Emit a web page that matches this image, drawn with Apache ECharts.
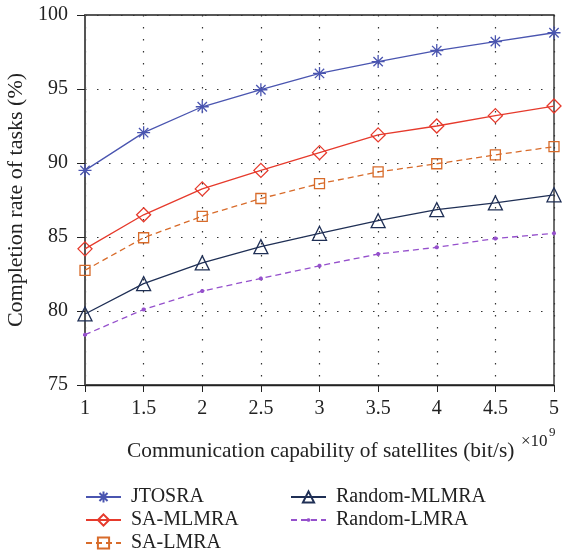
<!DOCTYPE html>
<html>
<head>
<meta charset="utf-8">
<script src="https://cdn.jsdelivr.net/npm/echarts@6/dist/echarts.min.js"></script>
<style>
  html, body { margin: 0; padding: 0; background: #fff; }
  #chart { width: 566px; height: 556px; }
</style>
</head>
<body>
<div id="chart"></div>
<script>
const capability = [1, 1.5, 2, 2.5, 3, 3.5, 4, 4.5, 5]
const jtosra = [89.5, 92.05, 93.8, 94.95, 96.05, 96.85, 97.6, 98.2, 98.8]
const saMlmra = [84.2, 86.5, 88.25, 89.5, 90.7, 91.9, 92.5, 93.2, 93.85]
const saLmra = [82.75, 84.95, 86.4, 87.6, 88.6, 89.4, 89.95, 90.55, 91.1]
const randomMlmra = [79.8, 81.85, 83.25, 84.35, 85.25, 86.1, 86.85, 87.3, 87.85]
const randomLmra = [78.4, 80.1, 81.35, 82.2, 83.05, 83.85, 84.3, 84.9, 85.25]

const font = '"Liberation Serif", "DejaVu Serif", serif'
const asterisk = 'path://M0,-1L0,1M-1,0L1,0M-0.72,-0.72L0.72,0.72M-0.72,0.72L0.72,-0.72'
// small octagon dot padded with invisible corner points, so the legend keeps it small too
const smallDot = 'path://M-6,-6L-6,-6M6,6L6,6M-0.8,-2L0.8,-2L2,-0.8L2,0.8L0.8,2L-0.8,2L-2,0.8L-2,-0.8Z'

const pairs = vals => capability.map((x, i) => [x, vals[i]])

const makeSeries = (name, vals, color, symbol, size, dashed, filled) => ({
  name,
  type: 'line',
  data: pairs(vals),
  symbol,
  symbolSize: size,
  showAllSymbol: true,
  lineStyle: { color, width: 1.3, type: dashed ? [6, 4] : 'solid' },
  itemStyle: {
    color: filled ? color : 'rgba(0,0,0,0)',
    borderColor: color,
    borderWidth: filled ? 0 : 1.3,
  },
  emphasis: { disabled: true },
  z: 3,
})

const chart = echarts.init(document.getElementById('chart'))

const legendBase = {
  type: 'plain',
  orient: 'vertical',
  top: 487,
  padding: 0,
  itemWidth: 35,
  itemHeight: 14,
  itemGap: 3,
  textStyle: { fontFamily: font, fontSize: 20, lineHeight: 20, color: '#222', padding: [0, 0, 0, 5] },
}

chart.setOption({
  animation: false,
  backgroundColor: '#fff',
  grid: {
    left: 85, right: 12, top: 15, bottom: 171,
    outerBoundsMode: 'none',
    show: true, borderColor: '#222', borderWidth: 1.3, backgroundColor: 'transparent',
  },
  xAxis: {
    type: 'value',
    min: 1, max: 5, interval: 0.5,
    axisLine: { onZero: false, lineStyle: { color: '#222', width: 1.3 } },
    axisTick: { length: 7, lineStyle: { color: '#222' } },
    axisLabel: { margin: 14, fontFamily: font, fontSize: 20, color: '#222' },
    splitLine: { lineStyle: { color: '#333', type: [1.5, 10.5], width: 1.2 } },
  },
  yAxis: {
    type: 'value',
    min: 75, max: 100, interval: 5,
    name: 'Completion rate of tasks (%)',
    nameLocation: 'middle',
    nameGap: 51,
    nameTextStyle: { fontFamily: font, fontSize: 22, color: '#222' },
    axisLine: { onZero: false, lineStyle: { color: '#555', width: 2 } },
    axisTick: { length: 8, lineStyle: { color: '#222' } },
    axisLabel: { margin: 17, fontFamily: font, fontSize: 20, color: '#222' },
    splitLine: { lineStyle: { color: '#333', type: [1.5, 10.5], width: 1.2 } },
  },
  legend: [
    Object.assign({}, legendBase, { left: 85, data: ['JTOSRA', 'SA-MLMRA', 'SA-LMRA'] }),
    Object.assign({}, legendBase, { left: 290, data: ['Random-MLMRA', 'Random-LMRA'] }),
  ],
  graphic: [
    {
      type: 'text', left: 127, top: 441,
      style: { text: 'Communication capability of satellites (bit/s)', font: '21.4px ' + font, fill: '#222' },
    },
    { type: 'text', left: 521, top: 433, style: { text: '×10', font: '17px ' + font, fill: '#222' } },
    { type: 'text', left: 549, top: 426, style: { text: '9', font: '13px ' + font, fill: '#222' } },
  ],
  series: [
    makeSeries('JTOSRA', jtosra, '#4a55b0', asterisk, 13, false, false),
    makeSeries('SA-MLMRA', saMlmra, '#e63a2c', 'diamond', 14, false, false),
    makeSeries('SA-LMRA', saLmra, '#d86b2a', 'rect', 10, true, false),
    makeSeries('Random-MLMRA', randomMlmra, '#1f2f55', 'triangle', 14, false, false),
    makeSeries('Random-LMRA', randomLmra, '#9550cc', smallDot, 12, true, true),
  ],
})
</script>
</body>
</html>
